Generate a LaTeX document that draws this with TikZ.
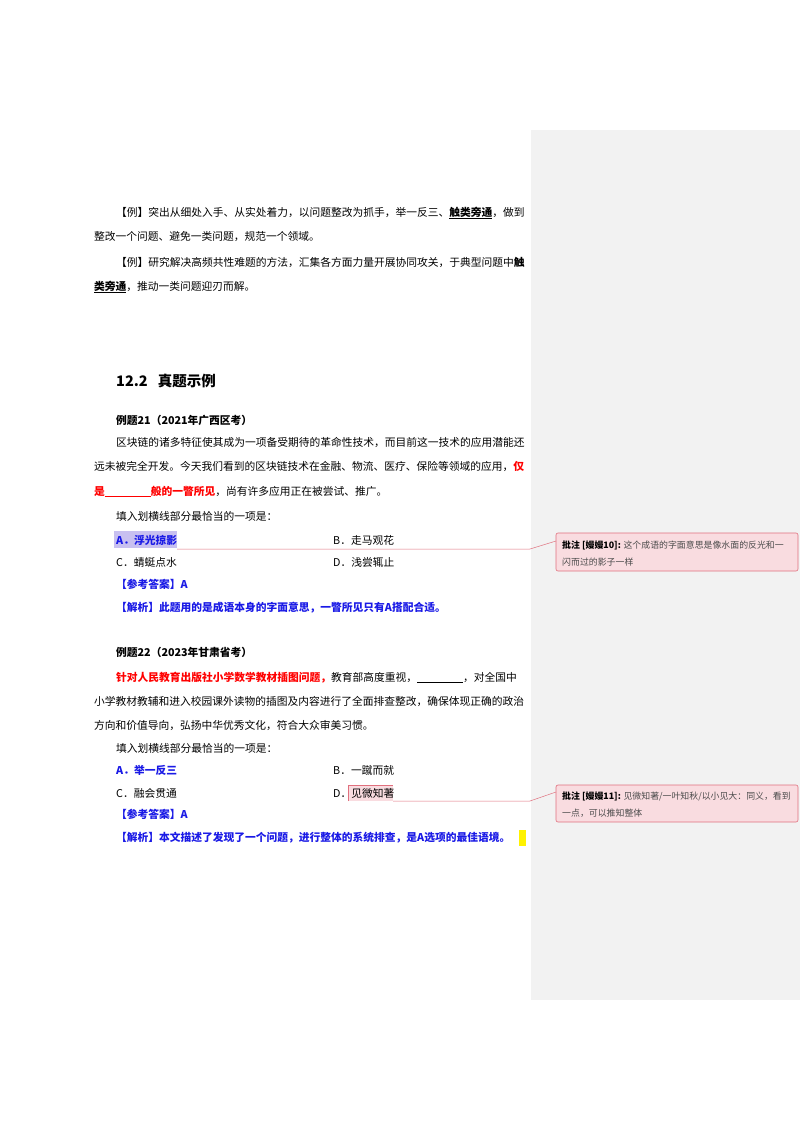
\documentclass[tikz,border=0pt]{standalone}
\usepackage{fontspec}
\setmainfont{Noto Sans CJK SC}
\XeTeXlinebreaklocale "zh"
\definecolor{panel}{HTML}{F2F2F2}
\definecolor{cmfill}{HTML}{F9DCE0}
\definecolor{cmline}{HTML}{E0707E}
\definecolor{ablue}{HTML}{1A1AE6}
\definecolor{hl}{HTML}{C8C0F0}
\begin{document}
\begin{tikzpicture}[x=1pt,y=-1pt,
  ln/.style={anchor=base west,inner sep=0pt,font=\fontsize{10.75}{13}\selectfont},
  bl/.style={ln,font=\fontsize{10.75}{13}\selectfont\bfseries},
  cmt/.style={anchor=base west,inner sep=0pt,font=\fontsize{8.9}{10}\selectfont},
  box/.style={draw=cmline,fill=cmfill,rounded corners=2pt,line width=0.6pt},
  con/.style={draw=cmline,line width=0.5pt}]
\useasboundingbox[fill=white] (0,0) rectangle (800,1132);
\fill[panel] (531,130) rectangle (800,1000);
% top examples
\node[ln] (l1) at (116,216) {【例】突出从细处入手、从实处着力，以问题整改为抓手，举一反三、\underline{\textbf{触类旁通}}，做到};
\node[ln] (l2) at (94,240) {整改一个问题、避免一类问题，规范一个领域。};
\node[ln] (l3) at (116,266) {【例】研究解决高频共性难题的方法，汇集各方面力量开展协同攻关，于典型问题中\textbf{触}};
\node[ln] (l4) at (94,290) {\underline{\textbf{类旁通}}，推动一类问题迎刃而解。};
\node[anchor=base west,inner sep=0pt,font=\fontsize{14.5}{16}\selectfont\bfseries] (h) at (116,386) {12.2\hspace{10pt}真题示例};
% example 21
\node[bl] (e21) at (116,424) {例题21（2021年广西区考）};
\node[ln] (a1) at (116,446) {区块链的诸多特征使其成为一项备受期待的革命性技术，而目前这一技术的应用潜能还};
\node[ln] (a2) at (94,470) {远未被完全开发。今天我们看到的区块链技术在金融、物流、医疗、保险等领域的应用，\textcolor{red}{\textbf{仅}}};
\node[ln] (a3) at (94,495) {\textcolor{red}{\textbf{是\underline{\hspace{46pt}}般的一瞥所见}}，尚有许多应用正在被尝试、推广。};
\node[ln] (a4) at (116,520) {填入划横线部分最恰当的一项是：};
\fill[hl] (114,531) rectangle (177,548);
\node[bl,text=ablue] (oA1) at (116,544) {A．浮光掠影};
\node[ln] (oB1) at (333,544) {B．走马观花};
\node[ln] (oC1) at (116,566) {C．蜻蜓点水};
\node[ln] (oD1) at (333,566) {D．浅尝辄止};
\node[bl,text=ablue] (r1) at (116,588) {【参考答案】A};
\node[bl,text=ablue] (s1) at (116,611) {【解析】此题用的是成语本身的字面意思，一瞥所见只有A搭配合适。};
% example 22
\node[bl] (e22) at (116,656) {例题22（2023年甘肃省考）};
\node[ln] (b1) at (116,681) {\textcolor{red}{\textbf{针对人民教育出版社小学数学教材插图问题，}}教育部高度重视，\underline{\hspace{46pt}}，对全国中};
\node[ln] (b2) at (94,705) {小学教材教辅和进入校园课外读物的插图及内容进行了全面排查整改，确保体现正确的政治};
\node[ln] (b3) at (94,729) {方向和价值导向，弘扬中华优秀文化，符合大众审美习惯。};
\node[ln] (b4) at (116,752) {填入划横线部分最恰当的一项是：};
\node[bl,text=ablue] (oA2) at (116,774) {A．举一反三};
\node[ln] (oB2) at (333,774) {B．一蹴而就};
\fill[cmfill] (348,785) rectangle (393,801);
\draw[cmline,line width=0.4pt] (348,801) -- (348,785) -- (393,785);
\node[ln] (oC2) at (116,797) {C．融会贯通};
\node[ln] (oD2) at (333,797) {D．见微知著};
\node[bl,text=ablue] (r2) at (116,818) {【参考答案】A};
\node[bl,text=ablue] (s2) at (116,841) {【解析】本文描述了发现了一个问题，进行整体的系统排查，是A选项的最佳语境。};
\fill[yellow] (519,830) rectangle (526,846);
% comments
\draw[box] (556,533) rectangle (798,571);
\node[cmt] (c1a) at (562,548) {\textbf{批注 [嫚嫚10]:} \textcolor{black!70}{这个成语的字面意思是像水面的反光和一}};
\node[cmt] (c1b) at (562,565) {\textcolor{black!70}{闪而过的影子一样}};
\draw[box] (556,785) rectangle (798,822);
\node[cmt] (c2a) at (562,799) {\textbf{批注 [嫚嫚11]:} \textcolor{black!70}{见微知著/一叶知秋/以小见大：同义，看到}};
\node[cmt] (c2b) at (562,816) {\textcolor{black!70}{一点，可以推知整体}};
\coordinate (k1) at (530,549);
\coordinate (k2) at (530,801);
\draw[con] (177,549) -- (k1) -- (556,541);
\draw[con] (393,801) -- (k2) -- (556,792);
\end{tikzpicture}
\end{document}
